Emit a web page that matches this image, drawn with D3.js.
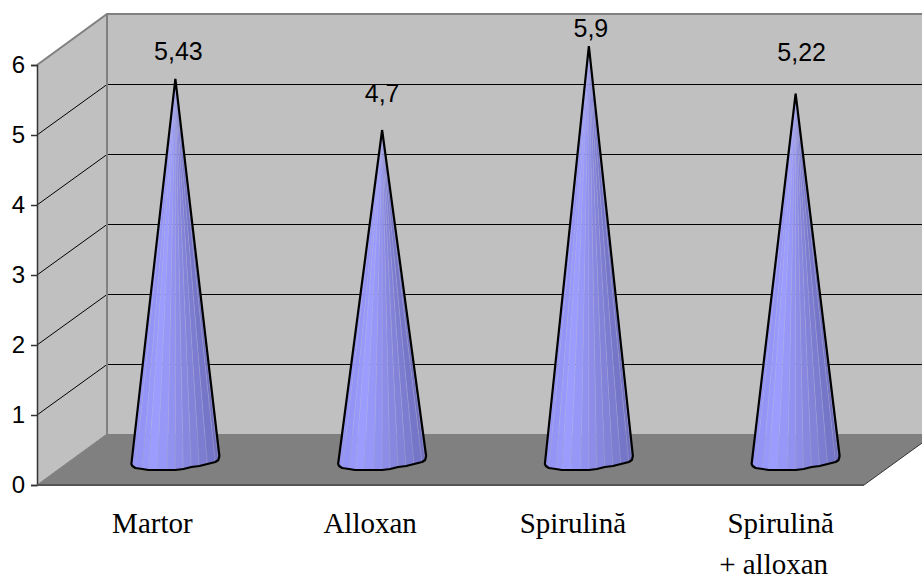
<!DOCTYPE html>
<html>
<head>
<meta charset="utf-8">
<script src="https://cdn.jsdelivr.net/npm/d3@7"></script>
<style>
  html, body { margin: 0; padding: 0; background: #fff; }
  svg { display: block; }
</style>
</head>
<body>
<script>
const categories = ["Martor", "Alloxan", "Spirulină", "Spirulină\n+ alloxan"];
const values = [5.43, 4.7, 5.9, 5.22];
const valueLabels = ["5,43", "4,7", "5,9", "5,22"];
const yTicks = [0, 1, 2, 3, 4, 5, 6];

const width = 922, height = 576;
const depthX = 70, depthY = -51;

const svg = d3.select("body").append("svg").attr("width", width).attr("height", height);

const x = d3.scaleBand().domain(categories).range([37, 864]);
const y = d3.scaleLinear().domain([0, 6]).range([485, 65]);

const plotTop = y(6), plotBottom = y(0), plotLeft = 37, plotRight = 864;
const apexLift = 26;

// Walls and floor

svg.append("polygon")
  .attr("points", [[plotLeft, plotTop], [plotLeft + depthX, plotTop + depthY], [width, plotTop + depthY], [width, plotBottom + depthY], [plotLeft + depthX, plotBottom + depthY], [plotLeft, plotBottom]].join(" "))
  .attr("fill", "#c0c0c0");

svg.append("polygon")
  .attr("points", [[plotLeft, plotBottom], [plotLeft + depthX, plotBottom + depthY], [width, plotBottom + depthY], [width, plotBottom - 42], [plotRight, plotBottom]].join(" "))
  .attr("fill", "#808080");

// Gridlines

svg.append("g")
  .selectAll("path")
  .data(yTicks.slice(1, -1))
  .join("path")
  .attr("d", (d) => `M${plotLeft},${y(d)}L${plotLeft + depthX},${y(d) + depthY + 0.5}H${width}`)
  .attr("fill", "none")
  .attr("stroke", "#000")
  .attr("stroke-width", 1);

// Wall edges

svg.append("path")
  .attr("d", `M${plotLeft},${plotTop}L${plotLeft + depthX},${plotTop + depthY}H${width}M${plotLeft + depthX},${plotTop + depthY}V${plotBottom + depthY}`)
  .attr("fill", "none")
  .attr("stroke", "#808080")
  .attr("stroke-width", 2);

svg.append("path")
  .attr("d", `M${plotLeft},${plotBottom}L${plotLeft + depthX},${plotBottom + depthY}`)
  .attr("stroke", "#808080")
  .attr("stroke-width", 1);

svg.append("path")
  .attr("d", `M${plotRight},${plotBottom}L${width},${plotBottom - 42}`)
  .attr("stroke", "#333")
  .attr("stroke-width", 1);

// Axis

const yAxis = d3.axisLeft(y).tickValues(yTicks).tickFormat(d3.format("d")).tickSize(6).tickPadding(6);
const axisG = svg.append("g").attr("transform", `translate(${plotLeft},0)`).call(yAxis);
axisG.selectAll("path, line").attr("stroke", "#333").attr("stroke-width", 1.5);
axisG.selectAll("text")
  .attr("font-family", "'Liberation Sans', Arial, sans-serif")
  .attr("font-size", 24)
  .attr("fill", "#000");

svg.append("path")
  .attr("d", `M${plotLeft},${plotBottom}H${plotRight}`)
  .attr("stroke", "#555")
  .attr("stroke-width", 2);

// Cones

// outline of the cone foot, relative to the cone axis, left to right
const foot = [[-44, -5], [-43, -3], [-40, -1], [-33, 0], [-27, 1], [-18, 1], [-8, 1], [0, 1], [8, 0], [16, -2], [24, -3], [32, -5], [40, -7], [43, -9], [44, -13]];
const baseY = 469;
const shade = d3.scaleLinear()
  .domain([0, 0.2, 0.55, 1])
  .range(["#9292f4", "#9c9cff", "#8a8ae4", "#6e6ebc"]);

const cones = svg.append("g")
  .selectAll("g")
  .data(values)
  .join("g")
  .attr("transform", (d, i) => `translate(${x(categories[i]) + x.bandwidth() / 2 + depthX / 2},0)`);

cones.each(function (d) {
  const apex = y(d) - apexLift;
  const g = d3.select(this);
  const outline = foot.map(([a, b]) => [a, baseY + b]);
  g.selectAll("polygon")
    .data(d3.pairs(outline))
    .join("polygon")
    .attr("points", ([a, b]) => [[0, apex], a, b].join(" "))
    .attr("fill", ([a]) => shade((a[0] + 44) / 88))
    .attr("stroke", "#b4b4e8")
    .attr("stroke-opacity", 0.35)
    .attr("stroke-width", 0.7);
  g.append("path")
    .attr("d", d3.line()([[0, apex], ...outline, [0, apex]]))
    .attr("fill", "none")
    .attr("stroke", "#000")
    .attr("stroke-width", 2.2)
    .attr("stroke-linejoin", "round");
});

// Labels

const labelLift = [19, 28, 9, 33];
const labelShift = [3, 0, 2, 6];

svg.append("g")
  .selectAll("text")
  .data(values)
  .join("text")
  .attr("x", (d, i) => x(categories[i]) + x.bandwidth() / 2 + depthX / 2 + labelShift[i])
  .attr("y", (d, i) => y(d) - apexLift - labelLift[i])
  .attr("text-anchor", "middle")
  .attr("font-family", "'Liberation Sans', Arial, sans-serif")
  .attr("font-size", 25)
  .text((d, i) => valueLabels[i]);

const catShift = [12, 23, 19, 20];
const secondLineShift = -7;

svg.append("g")
  .selectAll("text")
  .data(categories)
  .join("text")
  .attr("transform", (d, i) => `translate(${x(d) + x.bandwidth() / 2 + catShift[i]},533)`)
  .attr("text-anchor", "middle")
  .attr("font-family", "'Liberation Serif', 'Times New Roman', serif")
  .attr("font-size", 29)
  .selectAll("tspan")
  .data((d) => d.split("\n"))
  .join("tspan")
  .attr("x", (d, i) => (i ? secondLineShift : 0))
  .attr("dy", (d, i) => (i ? 41 : 0))
  .text((d) => d);
</script>
</body>
</html>
